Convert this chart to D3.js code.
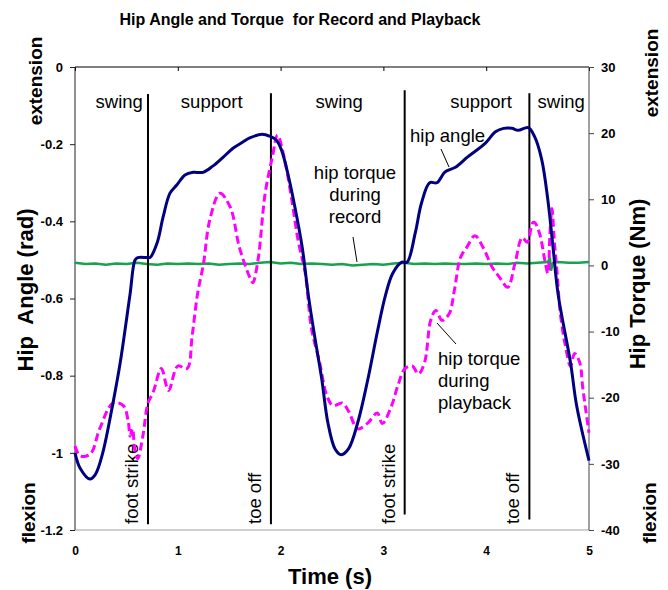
<!DOCTYPE html>
<meta charset="utf-8">
<style>
html,body {
  margin: 0px;
  padding: 0px;
  background-color: white;
  overflow: hidden;
}
text {
  font-family: "Liberation Sans", Arial, sans-serif;
}
.tick text {
  font-weight: bold;
  fill: black;
}
</style>
<body>
<svg></svg>
</body>
<script src="https://cdn.jsdelivr.net/npm/d3@7"></script>
<script>

// ---- data ----
var angleTime = [0, 0.05, 0.146, 0.2, 0.27, 0.37, 0.44, 0.535, 0.584, 0.61, 0.70, 0.73, 0.80, 0.856, 0.924, 0.99, 1.07, 1.15, 1.245, 1.34, 1.44, 1.54, 1.63, 1.70, 1.82, 1.90, 1.96, 2.01, 2.07, 2.14, 2.21, 2.27, 2.33, 2.40, 2.46, 2.53, 2.59, 2.66, 2.75, 2.85, 2.94, 3.02, 3.09, 3.18, 3.23, 3.31, 3.37, 3.45, 3.52, 3.60, 3.70, 3.82, 3.99, 4.09, 4.17, 4.25, 4.31, 4.41, 4.47, 4.54, 4.60, 4.65, 4.70, 4.82, 4.88, 5.0];
var hipAngle = [-1.0, -1.04, -1.068, -1.055, -1.0, -0.87, -0.766, -0.59, -0.50, -0.494, -0.494, -0.494, -0.455, -0.39, -0.327, -0.306, -0.28, -0.273, -0.273, -0.257, -0.234, -0.21, -0.195, -0.184, -0.174, -0.18, -0.19, -0.216, -0.276, -0.364, -0.467, -0.592, -0.696, -0.808, -0.922, -0.99, -1.005, -0.99, -0.922, -0.808, -0.688, -0.592, -0.535, -0.506, -0.506, -0.43, -0.353, -0.30, -0.30, -0.272, -0.26, -0.233, -0.198, -0.168, -0.159, -0.159, -0.164, -0.157, -0.18, -0.24, -0.345, -0.467, -0.59, -0.766, -0.878, -1.02];

var playTime = [0, 0.05, 0.15, 0.24, 0.37, 0.47, 0.52, 0.535, 0.56, 0.58, 0.61, 0.66, 0.71, 0.76, 0.84, 0.91, 1.0, 1.09, 1.14, 1.19, 1.25, 1.31, 1.41, 1.51, 1.60, 1.70, 1.73, 1.78, 1.85, 1.92, 1.97, 2.04, 2.11, 2.17, 2.24, 2.30, 2.38, 2.45, 2.51, 2.60, 2.66, 2.75, 2.85, 2.94, 2.99, 3.08, 3.14, 3.21, 3.28, 3.34, 3.40, 3.46, 3.51, 3.57, 3.64, 3.69, 3.75, 3.81, 3.89, 3.97, 4.06, 4.13, 4.21, 4.28, 4.35, 4.40, 4.45, 4.47, 4.52, 4.57, 4.60, 4.62, 4.64, 4.66, 4.69, 4.72, 4.77, 4.82, 4.86, 4.91, 4.94, 5.0];
var playTorque = [-27.3, -28.8, -28.5, -24.7, -20.8, -21.2, -23.8, -25.8, -24.7, -27.7, -29.2, -25.8, -20.8, -19.2, -15.6, -18.9, -15.2, -15.6, -10.6, -4.5, 0.3, 6.8, 10.9, 8.8, 2.7, -1.8, -2.6, 0.8, 10.9, 16.4, 19.7, 15.9, 9.8, 3.8, -1.2, -9.5, -14.7, -19.7, -21.2, -20.8, -22.0, -24.7, -23.8, -22.3, -23.9, -21.2, -18.2, -15.6, -15.2, -16.4, -14.7, -8.3, -6.8, -8.3, -7.3, -3.8, 1.2, 2.7, 4.5, 2.7, -0.3, -1.8, -3.3, 0.3, 4.2, 3.5, 6.4, 6.5, 4.8, 0.8, -1.2, 4.8, 8.6, 4.2, -1.2, -7.1, -12.1, -15.2, -13.3, -14.7, -18.6, -25.3];

var recordTime = [0, 0.1, 0.2, 0.3, 0.4, 0.5, 0.6, 0.7, 0.8, 0.9, 1.0, 1.1, 1.2, 1.3, 1.4, 1.5, 1.6, 1.7, 1.8, 1.9, 2.0, 2.1, 2.2, 2.3, 2.4, 2.5, 2.6, 2.7, 2.8, 2.9, 3.0, 3.1, 3.2, 3.3, 3.4, 3.5, 3.6, 3.7, 3.8, 3.9, 4.0, 4.1, 4.2, 4.3, 4.4, 4.5, 4.6, 4.62, 4.63, 4.65, 4.7, 4.8, 4.9, 5.0];
var recordTorque = [0.4, 0.2, 0.3, 0.1, 0.3, 0.2, 0.4, 0.2, 0.1, 0.3, 0.2, 0.3, 0.2, 0.3, 0.1, 0.2, 0.3, 0.2, 0.4, 0.5, 0.3, 0.4, 0.2, 0.3, 0.2, 0.1, 0.2, 0.0, 0.1, 0.2, 0.1, 0.3, 0.4, 0.2, 0.3, 0.2, 0.3, 0.2, 0.2, 0.3, 0.2, 0.3, 0.2, 0.4, 0.3, 0.4, 0.5, 1.2, -0.8, 0.4, 0.5, 0.4, 0.4, 0.5];

var eventTimes = [0.71, 1.906, 3.207, 4.42];
var eventNames = ["foot strike", "toe off", "foot strike", "toe off"];
var eventTop = [-0.07, -0.068, -0.06, -0.068];
var eventBottom = [-1.185, -1.185, -1.16, -1.173];

var phaseNames = ["swing", "support", "swing", "support", "swing"];
var phaseCenters = [0.43, 1.33, 2.57, 3.95, 4.73];

var timeTicks = [0, 1, 2, 3, 4, 5];
var timeLabels = ["0", "1", "2", "3", "4", "5"];
var angleTicks = [0, -0.2, -0.4, -0.6, -0.8, -1, -1.2];
var angleLabels = ["0", "-0.2", "-0.4", "-0.6", "-0.8", "-1", "-1.2"];
var torqueTicks = [30, 20, 10, 0, -10, -20, -30, -40];
var torqueLabels = ["30", "20", "10", "0", "-10", "-20", "-30", "-40"];

// ---- layout ----
var W = 668, H = 590;
var pLeft = 75, pRight = 589, pTop = 67, pBottom = 530;

var svg = d3.select("svg").attr("width", W).attr("height", H);

var x = d3.scaleLinear().domain([0, 5]).range([pLeft, pRight]);
var yA = d3.scaleLinear().domain([-1.2, 0]).range([pBottom, pTop]);
var yT = d3.scaleLinear().domain([-40, 30]).range([pBottom, pTop]);

// frame lines
svg.append("line").attr("x1", pLeft).attr("x2", pRight).attr("y1", pBottom).attr("y2", pBottom)
  .attr("stroke", "#a0a0a0").attr("stroke-width", 1);

var topAxis = svg.append("g").attr("transform", "translate(0," + pTop + ")")
  .call(d3.axisTop(x).tickValues(timeTicks).tickSize(-4).tickFormat(""));
topAxis.select(".domain").attr("stroke", "black").attr("d", "M" + pLeft + ",0H" + pRight);

var xAxis = svg.append("g").attr("transform", "translate(0," + pBottom + ")")
  .call(d3.axisBottom(x).tickValues(timeTicks).tickSize(0).tickPadding(16)
    .tickFormat(function(d, i) { return timeLabels[i]; }));
xAxis.select(".domain").remove();
xAxis.selectAll("text").attr("font-size", 12);

var yAxisL = svg.append("g").attr("transform", "translate(" + pLeft + ",0)")
  .call(d3.axisLeft(yA).tickValues(angleTicks).tickSize(5).tickPadding(7)
    .tickFormat(function(d, i) { return angleLabels[i]; }));
yAxisL.selectAll("text").attr("font-size", 13);
yAxisL.select(".domain").attr("stroke", "#222").attr("d", "M0," + pTop + "V" + pBottom);
yAxisL.selectAll(".tick line").attr("stroke", "#222");

var yAxisR = svg.append("g").attr("transform", "translate(" + pRight + ",0)")
  .call(d3.axisRight(yT).tickValues(torqueTicks).tickSize(5).tickPadding(7)
    .tickFormat(function(d, i) { return torqueLabels[i]; }));
yAxisR.selectAll("text").attr("font-size", 13);
yAxisR.select(".domain").attr("stroke", "#444").attr("d", "M0," + pTop + "V" + pBottom);
yAxisR.selectAll(".tick line").attr("stroke", "#444");

// record torque (green)
var recLine = d3.line()
  .x(function(d) { return x(d[0]); })
  .y(function(d) { return yT(d[1]); });
svg.append("path")
  .datum(d3.zip(recordTime, recordTorque))
  .attr("d", recLine)
  .attr("fill", "none").attr("stroke", "#17a24e").attr("stroke-width", 2.5);

// event lines
eventTimes.forEach(function(t, i) {
  svg.append("line")
    .attr("x1", x(t)).attr("x2", x(t))
    .attr("y1", yA(eventTop[i])).attr("y2", yA(eventBottom[i]))
    .attr("stroke", "black").attr("stroke-width", 2);
  svg.append("text")
    .attr("transform", "translate(" + (x(t) - 10) + "," + (pBottom - 6) + ") rotate(-90)")
    .attr("font-size", 18.5)
    .text(eventNames[i]);
});

// playback torque (magenta dashed)
var playLine = d3.line()
  .x(function(d) { return x(d[0]); })
  .y(function(d) { return yT(d[1]); })
  .curve(d3.curveCatmullRom.alpha(0.5));
svg.append("path")
  .datum(d3.zip(playTime, playTorque))
  .attr("d", playLine)
  .attr("fill", "none").attr("stroke", "#ff00ff").attr("stroke-width", 3)
  .attr("stroke-dasharray", "8,4");

// hip angle (navy)
var angLine = d3.line()
  .x(function(d) { return x(d[0]); })
  .y(function(d) { return yA(d[1]); })
  .curve(d3.curveCatmullRom.alpha(0.5));
svg.append("path")
  .datum(d3.zip(angleTime, hipAngle))
  .attr("d", angLine)
  .attr("fill", "none").attr("stroke", "#000080").attr("stroke-width", 3);

// phase labels
phaseNames.forEach(function(p, i) {
  svg.append("text")
    .attr("x", x(phaseCenters[i])).attr("y", 108)
    .attr("text-anchor", "middle").attr("font-size", 18.5)
    .text(p);
});

// annotations
function note(lines, tx, ty, anchor) {
  lines.forEach(function(s, i) {
    svg.append("text").attr("x", tx).attr("y", ty + i * 22)
      .attr("text-anchor", anchor).attr("font-size", 18.5).text(s);
  });
}
note(["hip angle"], 410, 142, "start");
note(["hip torque", "during", "record"], 355, 179, "middle");
note(["hip torque", "during", "playback"], 438, 365, "start");

var leaders = [[441, 149, 449, 167], [353, 237, 357, 262], [437, 323, 456, 344]];
leaders.forEach(function(l) {
  svg.append("line").attr("x1", l[0]).attr("y1", l[1]).attr("x2", l[2]).attr("y2", l[3])
    .attr("stroke", "black").attr("stroke-width", 1);
});

// titles
svg.append("text").attr("x", 300).attr("y", 25).attr("text-anchor", "middle")
  .attr("font-size", 16).attr("font-weight", "bold")
  .style("white-space", "pre")
  .text("Hip Angle and Torque  for Record and Playback");

svg.append("text").attr("x", 330).attr("y", 584).attr("text-anchor", "middle")
  .attr("font-size", 22).attr("font-weight", "bold").text("Time (s)");

function vtext(s, tx, ty, size) {
  svg.append("text")
    .attr("transform", "translate(" + tx + "," + ty + ") rotate(-90)")
    .attr("text-anchor", "middle").attr("font-size", size).attr("font-weight", "bold")
    .style("white-space", "pre")
    .text(s);
}
vtext("Hip  Angle (rad)", 33, 290, 22);
vtext("extension", 42, 81, 19);
vtext("flexion", 35, 513, 19);
vtext("Hip Torque (Nm)", 645, 284, 22);
vtext("extension", 658, 73, 19);
vtext("flexion", 656, 513, 19);

</script>
